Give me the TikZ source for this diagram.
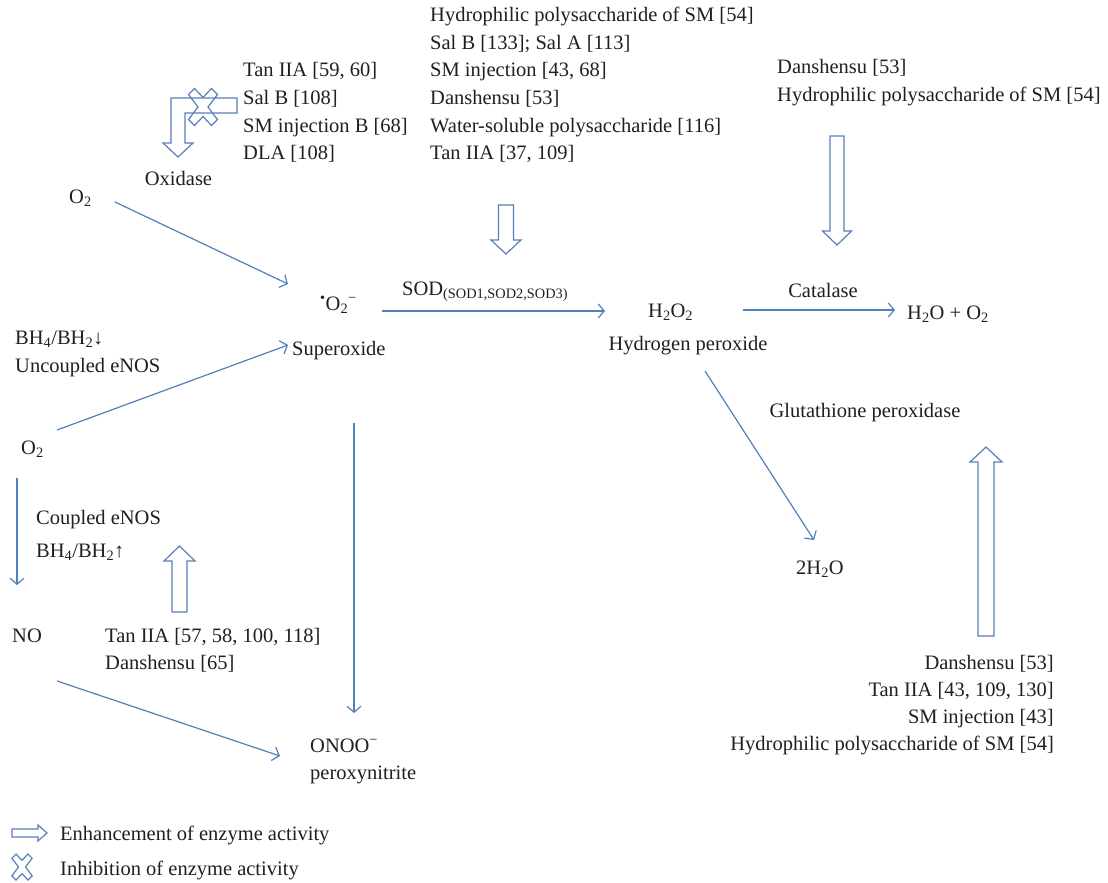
\documentclass[tikz,border=0pt]{standalone}
\usepackage{fontspec}
\setmainfont{Liberation Serif}
\usetikzlibrary{arrows.meta}
\definecolor{lnblue}{HTML}{4F81BD}
\definecolor{hlblue}{HTML}{5A7FB8}
\definecolor{txt}{HTML}{231F20}
\begin{document}
\begin{tikzpicture}[x=1pt,y=-1pt,
  lbl/.style={inner sep=0pt, anchor=base west, text=txt, font=\fontsize{20.5}{24}\selectfont},
  lblr/.style={lbl, anchor=base east},
  lblc/.style={lbl, anchor=base},
  conn/.style={draw=lnblue, line width=1.2pt, -{Straight Barb[length=6pt,width=14pt,line width=1.2pt]}},
  connb/.style={conn, line width=1.8pt},
  hollow/.style={draw=hlblue, line width=1.2pt, fill=none, line join=miter},
  inhibx/.pic={\draw[hollow] (-8.5,-18.5) -- (0,-9.5) -- (8.5,-18.5) -- (14.5,-12.5) -- (5,0) -- (14.5,12.5) -- (8.5,18.5) -- (0,9.5) -- (-8.5,18.5) -- (-14.5,12.5) -- (-5,0) -- (-14.5,-12.5) -- cycle;}
]
\useasboundingbox[fill=white] (0,0) rectangle (1108,883);

% top middle group
\node[lbl] (m1) at (430,22) {Hydrophilic polysaccharide of SM [54]};
\node[lbl] (m2) at (430,49.5) {Sal B [133]; Sal A [113]};
\node[lbl] (m3) at (430,77) {SM injection [43, 68]};
\node[lbl] (m4) at (430,104.5) {Danshensu [53]};
\node[lbl] (m5) at (430,132) {Water-soluble polysaccharide [116]};
\node[lbl] (m6) at (430,159.5) {Tan IIA [37, 109]};

% top left group
\node[lbl] (l1) at (243,77) {Tan IIA [59, 60]};
\node[lbl] (l2) at (243,104.5) {Sal B [108]};
\node[lbl] (l3) at (243,132) {SM injection B [68]};
\node[lbl] (l4) at (243,159.5) {DLA [108]};
\node[lblc] (oxid) at (178.5,185) {Oxidase};

% top right group
\node[lbl] (r1) at (777,74) {Danshensu [53]};
\node[lbl] (r2) at (777,101) {Hydrophilic polysaccharide of SM [54]};

% main row
\node[lbl] (o2a) at (69,203) {O\textsubscript{2}};
\node[lbl] (supo) at (320,310) {\textsuperscript{•}O\textsubscript{2}\textsuperscript{−}};
\node[lbl] (sod) at (402,295) {SOD\textsubscript{(SOD1,SOD2,SOD3)}};
\node[lbl] (h2o2) at (648,317) {H\textsubscript{2}O\textsubscript{2}};
\node[lblc] (cat) at (823,297) {Catalase};
\node[lbl] (prod) at (907,319) {H\textsubscript{2}O + O\textsubscript{2}};
\node[lbl] (supt) at (292,355) {Superoxide};
\node[lblc] (hper) at (688,350) {Hydrogen peroxide};

% left side
\node[lbl] (bh4d) at (15,344) {BH\textsubscript{4}/BH\textsubscript{2}↓};
\node[lbl] (unc) at (15,372) {Uncoupled eNOS};
\node[lbl] (o2b) at (21,454) {O\textsubscript{2}};
\node[lbl] (cpl) at (36,524) {Coupled eNOS};
\node[lbl] (bh4u) at (36,557) {BH\textsubscript{4}/BH\textsubscript{2}↑};
\node[lbl] (no) at (12,642) {NO};
\node[lbl] (tan2) at (105,642) {Tan IIA [57, 58, 100, 118]};
\node[lbl] (dan65) at (105,669) {Danshensu [65]};
\node[lbl] (onoo) at (310,752) {ONOO\textsuperscript{−}};
\node[lbl] (pxn) at (310,779) {peroxynitrite};

% right side
\node[lblc] (glut) at (865,417) {Glutathione peroxidase};
\node[lbl] (h2ox) at (796,574) {2H\textsubscript{2}O};
\node[lblr] (b1) at (1054,669) {Danshensu [53]};
\node[lblr] (b2) at (1054,696) {Tan IIA [43, 109, 130]};
\node[lblr] (b3) at (1054,723) {SM injection [43]};
\node[lblr] (b4) at (1054,750) {Hydrophilic polysaccharide of SM [54]};

% legend
\node[lbl] (enh) at (60,840) {Enhancement of enzyme activity};
\node[lbl] (inh) at (60,875) {Inhibition of enzyme activity};

% connector end points
\coordinate (a1s) at (115,202); \coordinate (a1e) at (288,284);
\coordinate (a2s) at (382,311); \coordinate (a2e) at (605,311);
\coordinate (a3s) at (743,310); \coordinate (a3e) at (895,310);
\coordinate (a4s) at (57,430);  \coordinate (a4e) at (288,345);
\coordinate (a5s) at (17,478);  \coordinate (a5e) at (17,585);
\coordinate (a6s) at (354,423); \coordinate (a6e) at (354,713);
\coordinate (a7s) at (57,681);  \coordinate (a7e) at (280,756);
\coordinate (a8s) at (705,371); \coordinate (a8e) at (814,540);

\draw[conn] (a1s) -- (a1e);
\draw[connb] (a2s) -- (a2e);
\draw[connb] (a3s) -- (a3e);
\draw[conn] (a4s) -- (a4e);
\draw[connb] (a5s) -- (a5e);
\draw[connb] (a6s) -- (a6e);
\draw[conn] (a7s) -- (a7e);
\draw[conn] (a8s) -- (a8e);

% hollow arrows
\draw[hollow] (498.5,205) -- (513.5,205) -- (513.5,240) -- (521,240) -- (506,254) -- (491,240) -- (498.5,240) -- cycle;
\draw[hollow] (830,136) -- (844,136) -- (844,231) -- (851.5,231) -- (837,245) -- (822.5,231) -- (830,231) -- cycle;
\draw[hollow] (172,612) -- (187,612) -- (187,561) -- (195,561) -- (179.5,546) -- (164,561) -- (172,561) -- cycle;
\draw[hollow] (978,636) -- (994,636) -- (994,462) -- (1002,462) -- (986,447) -- (970,462) -- (978,462) -- cycle;
% bent inhibited arrow
\draw[hollow] (237,98) -- (171,98) -- (171,143) -- (163,143) -- (178,157) -- (193,143) -- (185,143) -- (185,113) -- (237,113) -- cycle;
\pic at (203,107) {inhibx};

% legend symbols
\draw[hollow] (12,829) -- (38,829) -- (38,825) -- (47,833) -- (38,841) -- (38,837) -- (12,837) -- cycle;
\pic[scale=0.7] at (22,867) {inhibx};
\end{tikzpicture}
\end{document}
